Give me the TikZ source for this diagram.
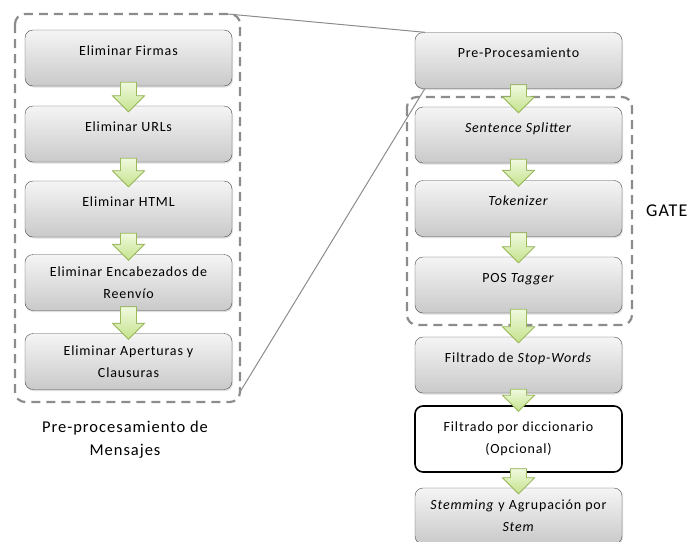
\documentclass[tikz,border=0pt]{standalone}
\usepackage{fontspec}
\setmainfont{Carlito}[LetterSpace=6]
\usetikzlibrary{shadows}
\definecolor{verdeborde}{RGB}{155,187,89}
\definecolor{verdeclaro}{RGB}{240,249,222}
\definecolor{verdeoscuro}{RGB}{196,226,140}
\definecolor{grismarco}{RGB}{140,140,140}
% flecha de bloque entre dos cajas
\newcommand{\flecha}[2]{%
\filldraw[flechaverde] ([xshift=-8pt,yshift=4pt]#1.south) -- ([xshift=-8pt,yshift=10pt]#2.north) -- ([xshift=-16pt,yshift=10pt]#2.north) -- ([yshift=-6pt]#2.north) -- ([xshift=16pt,yshift=10pt]#2.north) -- ([xshift=8pt,yshift=10pt]#2.north) -- ([xshift=8pt,yshift=4pt]#1.south) -- cycle;}

\begin{document}
\begin{tikzpicture}[x=1pt,y=-1pt,
base/.style={rounded corners=8pt,minimum width=207pt,minimum height=56pt,align=center,font=\fontsize{14}{22}\selectfont,inner sep=2pt},
caja/.style={base,draw=black!70,top color=gray!8,bottom color=gray!42,drop shadow={opacity=0.25,shadow xshift=1pt,shadow yshift=-1.5pt}},
blanca/.style={base,draw=black,line width=1.6pt,fill=white,minimum height=66pt},
unalinea/.style={text height=9pt,text depth=15pt},
flechaverde/.style={draw=verdeborde,line width=0.8pt,top color=verdeclaro,bottom color=verdeoscuro},
marco/.style={draw=grismarco,line width=2.2pt,dash pattern=on 9pt off 6pt,rounded corners=10pt},
enlace/.style={draw=grismarco,line width=1pt}]
\useasboundingbox (0,0) rectangle (692,541);
\draw[marco] (15,14) rectangle (240,402); %izquierda
\draw[marco] (407,97) rectangle (632,325); %GATE
% columna izquierda
\node[caja,unalinea] (firmas) at (128.5,58) {Eliminar Firmas};
\node[caja,unalinea] (urls) at (128.5,134) {Eliminar URLs};
\node[caja,unalinea] (html) at (128.5,209) {Eliminar HTML};
\node[caja] (reenvio) at (128.5,282.5) {Eliminar Encabezados de\\Reenvío};
\node[caja] (aperturas) at (128.5,361.5) {Eliminar Aperturas y\\Clausuras};
\node[align=center,font=\fontsize{16.5}{23}\selectfont] (mensajes) at (125,439.5) {Pre-procesamiento de\\Mensajes};
% columna derecha
\node[caja,unalinea] (pre) at (518.5,60.5) {Pre-Procesamiento};
\node[caja,unalinea] (splitter) at (518.5,135) {\textit{Sentence Splitter}};
\node[caja,unalinea] (tokenizer) at (518.5,208.5) {\textit{Tokenizer}};
\node[caja,unalinea] (tagger) at (518.5,285) {POS \textit{Tagger}};
\node[caja,unalinea] (stopwords) at (518.5,365) {Filtrado de \textit{Stop-Words}};
\node[blanca] (diccionario) at (518.5,439) {Filtrado por diccionario\\(Opcional)};
\node[caja] (stemming) at (518.5,516) {\textit{Stemming} y Agrupación por\\\textit{Stem}};
\node[font=\fontsize{18}{20}\selectfont,anchor=west,inner sep=0pt] (gate) at (646,211) {GATE};
% flechas
\flecha{firmas}{urls}
\flecha{urls}{html}
\flecha{html}{reenvio}
\flecha{reenvio}{aperturas}
\flecha{pre}{splitter}
\flecha{splitter}{tokenizer}
\flecha{tokenizer}{tagger}
\flecha{tagger}{stopwords}
\flecha{stopwords}{diccionario}
\flecha{diccionario}{stemming}
% lineas de detalle
\coordinate (marcoarriba) at (228,14);
\coordinate (marcoabajo) at (240,392);
\draw[enlace] (marcoarriba) -- ([xshift=10pt]pre.north west);
\draw[enlace] (marcoabajo) -- ([xshift=10pt]pre.south west);
\end{tikzpicture}
\end{document}
